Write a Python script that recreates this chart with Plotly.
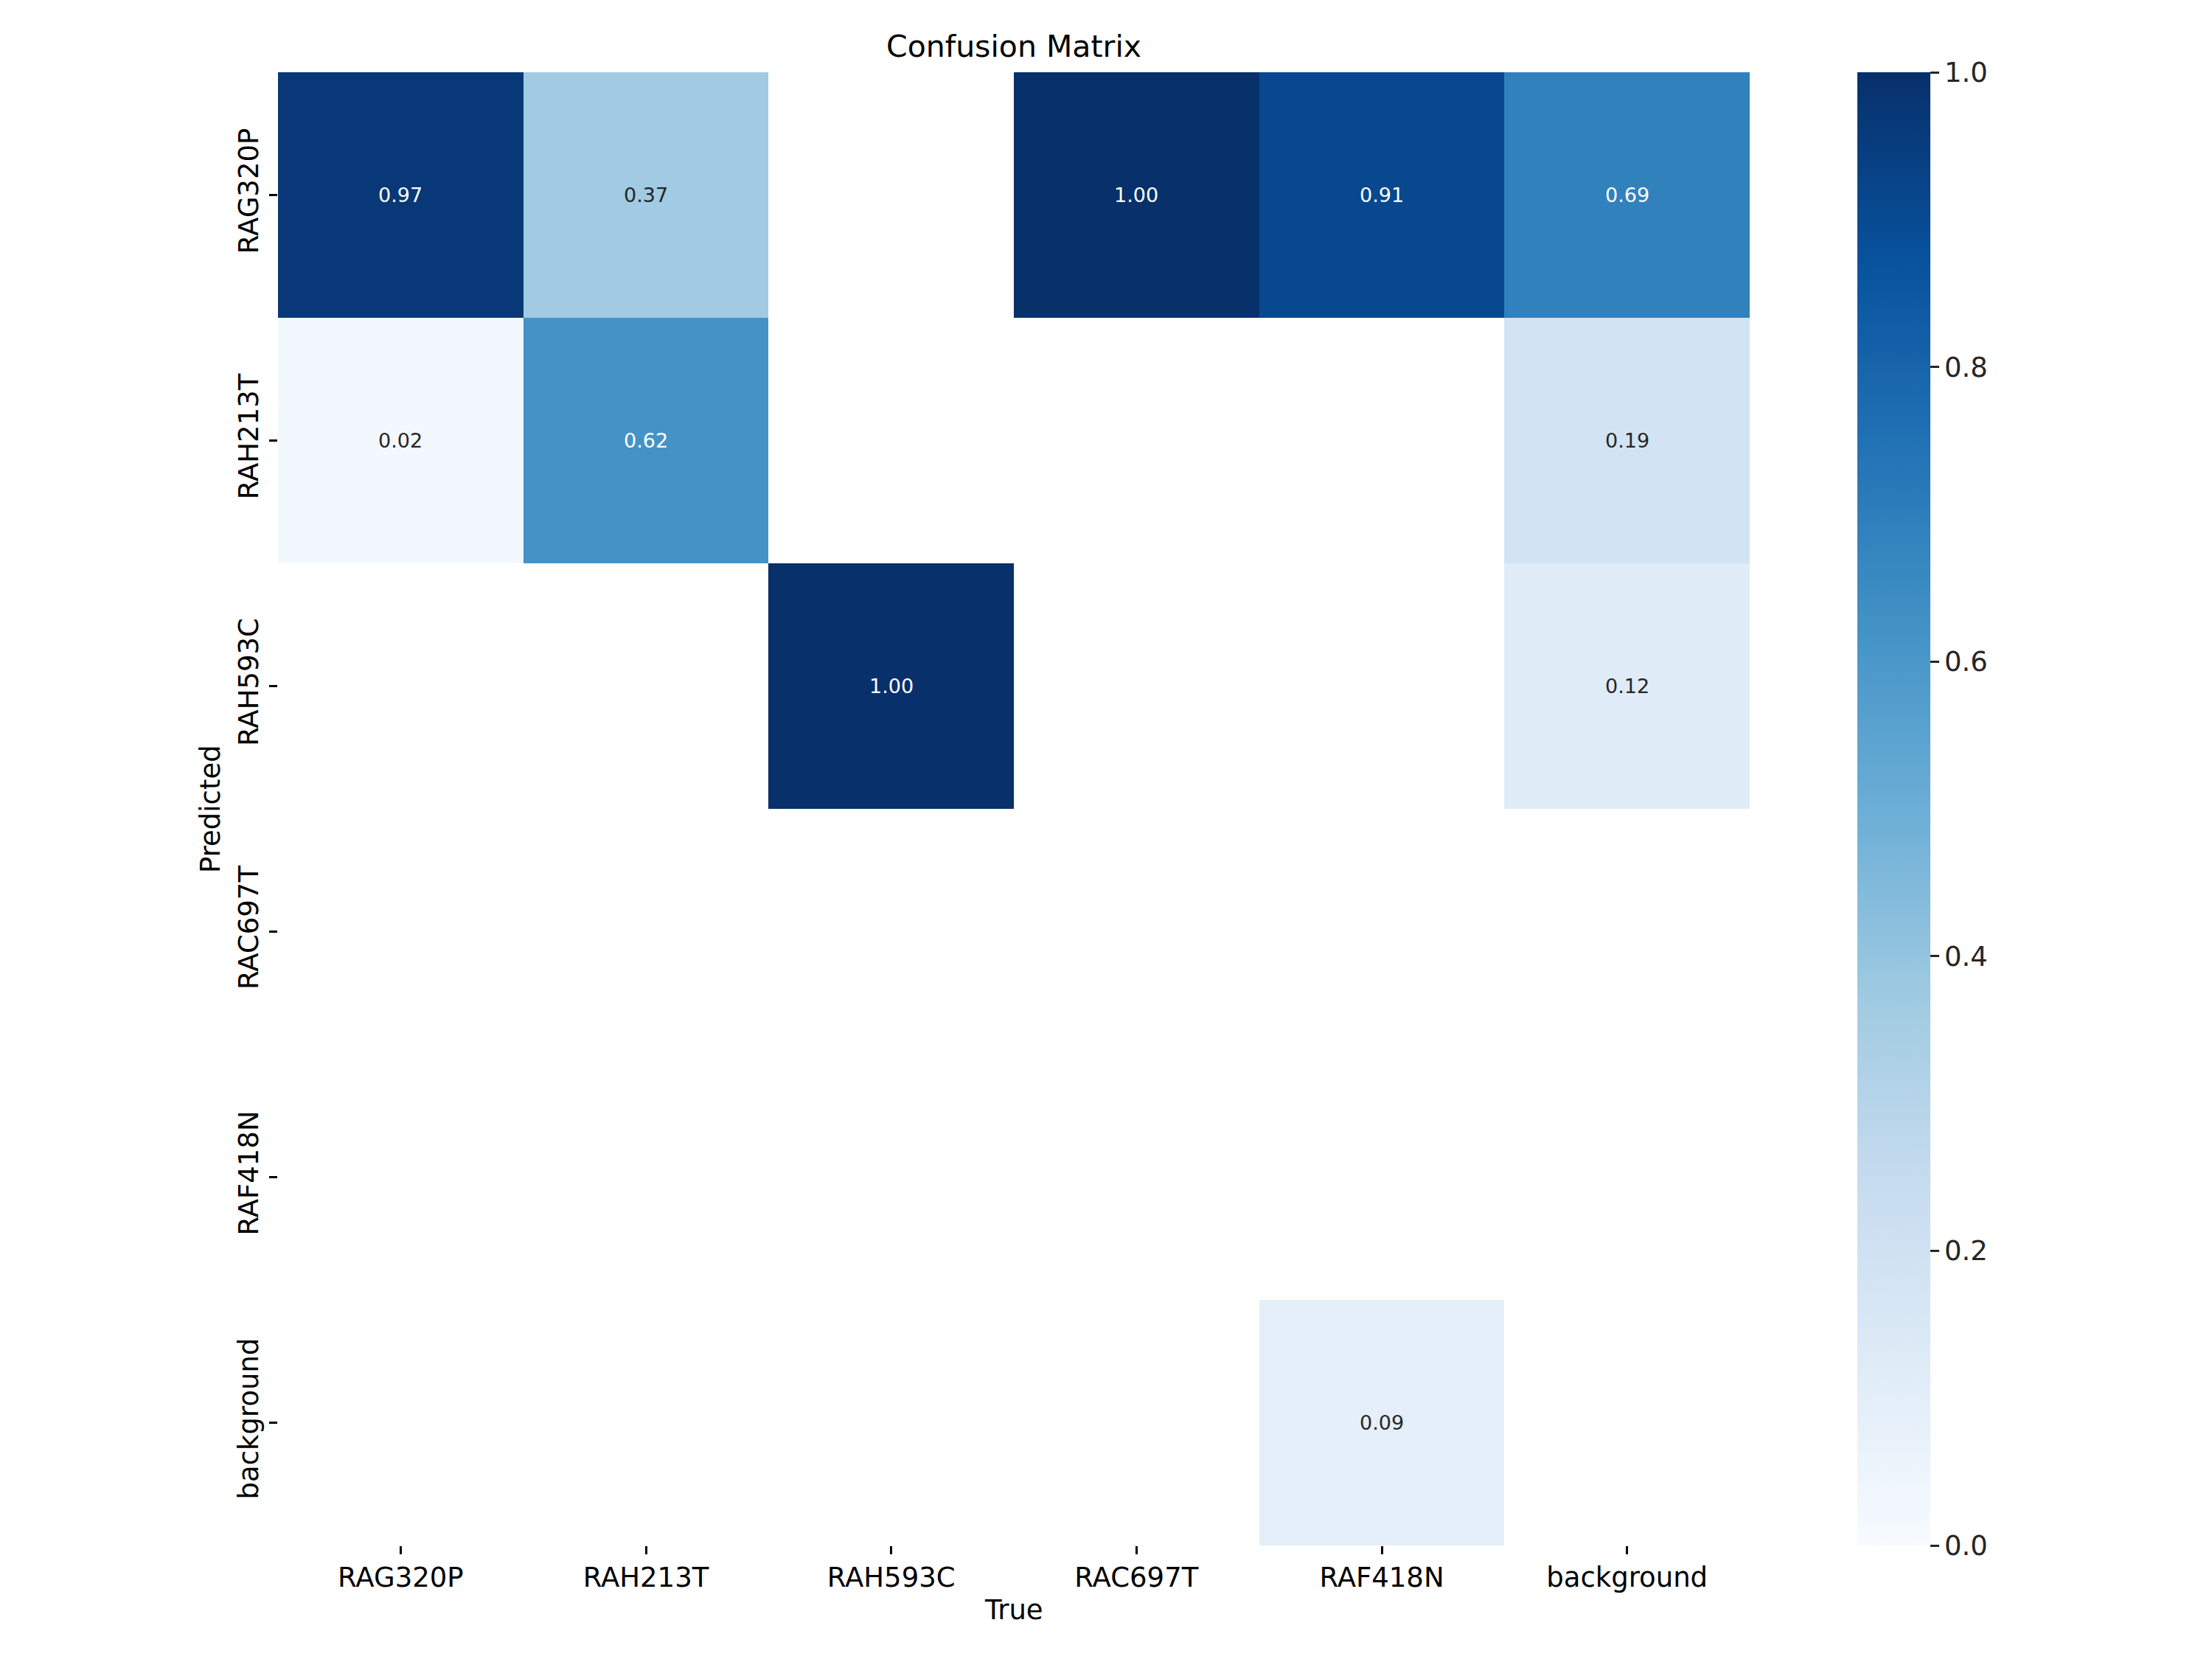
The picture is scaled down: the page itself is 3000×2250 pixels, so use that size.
import plotly.graph_objects as go

# ---- data ----
true_labels = ["RAG320P", "RAH213T", "RAH593C", "RAC697T", "RAF418N", "background"]
pred_labels = ["RAG320P", "RAH213T", "RAH593C", "RAC697T", "RAF418N", "background"]

row_RAG320P = [0.97, 0.37, None, 1.00, 0.91, 0.69]
row_RAH213T = [0.02, 0.62, None, None, None, 0.19]
row_RAH593C = [None, None, 1.00, None, None, 0.12]
row_RAC697T = [None, None, None, None, None, None]
row_RAF418N = [None, None, None, None, None, None]
row_background = [None, None, None, None, 0.09, None]

matrix = [row_RAG320P, row_RAH213T, row_RAH593C, row_RAC697T, row_RAF418N, row_background]

cbar_ticks = [0.0, 0.2, 0.4, 0.6, 0.8, 1.0]

blues = [
    [0.000, "#f7fbff"], [0.125, "#deebf7"], [0.250, "#c6dbef"],
    [0.375, "#9ecae1"], [0.500, "#6baed6"], [0.625, "#4292c6"],
    [0.750, "#2171b5"], [0.875, "#08519c"], [1.000, "#08306b"],
]

W, H = 3000, 2250
OFF = 8  # page body margin compensation


def px(x):
    return (x - OFF) / W


def py(y):
    return 1 - (y - OFF) / H


x0, x1 = px(377), px(2373)
y_top, y_bot = py(98), py(2096)
FONT = "DejaVu Sans"

fig = go.Figure()
fig.add_trace(go.Heatmap(
    z=matrix, x=true_labels, y=pred_labels,
    colorscale=blues, zmin=0.0, zmax=1.0, xgap=0, ygap=0,
    hoverongaps=False,
    colorbar=dict(
        x=px(2519), xanchor="left", xpad=0, ypad=0,
        y=y_top, yanchor="top", len=y_top - y_bot, lenmode="fraction",
        thickness=99, thicknessmode="pixels",
        outlinewidth=0,
        tickvals=cbar_ticks, ticktext=[f"{t:.1f}" for t in cbar_ticks],
        ticks="outside", ticklen=12, tickwidth=3, tickcolor="#262626",
        tickfont=dict(family=FONT, size=37, color="#262626"),
    ),
))

annotations = []
for i, row in enumerate(matrix):
    for j, v in enumerate(row):
        if v is None:
            continue
        annotations.append(dict(
            x=true_labels[j], y=pred_labels[i], xref="x", yref="y",
            text=f"{v:.2f}", showarrow=False,
            font=dict(family=FONT, size=27, color="white" if v > 0.5 else "#262626"),
        ))

annotations += [
    dict(text="Confusion Matrix", x=(x0 + x1) / 2, y=py(63), xref="paper", yref="paper",
         showarrow=False, xanchor="center", yanchor="middle",
         font=dict(family=FONT, size=41, color="black")),
    dict(text="True", x=(x0 + x1) / 2, y=py(2183), xref="paper", yref="paper",
         showarrow=False, xanchor="center", yanchor="middle",
         font=dict(family=FONT, size=37, color="black")),
    dict(text="Predicted", x=px(285), y=(y_top + y_bot) / 2, xref="paper", yref="paper",
         showarrow=False, xanchor="center", yanchor="middle", textangle=-90,
         font=dict(family=FONT, size=37, color="black")),
]

fig.update_layout(
    width=W, height=H,
    margin=dict(l=0, r=0, t=0, b=0, pad=0),
    paper_bgcolor="white", plot_bgcolor="white",
    font=dict(family=FONT, color="black"),
    annotations=annotations,
    xaxis=dict(domain=[x0, x1], type="category", showgrid=False, zeroline=False,
               showline=False, ticks="outside", ticklen=11, tickwidth=3, tickcolor="black",
               tickfont=dict(family=FONT, size=37, color="black")),
    yaxis=dict(domain=[y_bot, y_top], type="category", autorange="reversed",
               showgrid=False, zeroline=False, showline=False,
               ticks="outside", ticklen=11, tickwidth=3, tickcolor="black",
               tickangle=-90,
               tickfont=dict(family=FONT, size=37, color="black")),
)

fig.write_html("out.html")
